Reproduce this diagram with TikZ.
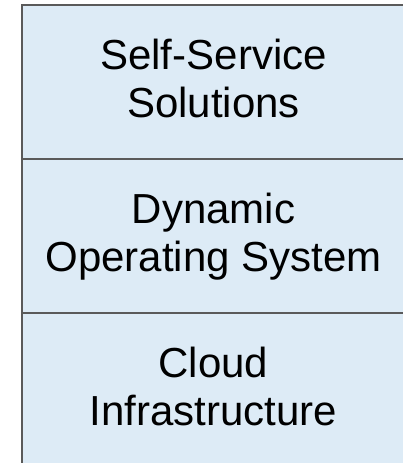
\documentclass[tikz,border=0pt]{standalone}
\usepackage{fontspec}
\setmainfont{Liberation Sans}
\usetikzlibrary{positioning}

\definecolor{layerfill}{HTML}{DDEBF6}
\definecolor{layerline}{HTML}{5A5A5A}

\begin{document}
\begin{tikzpicture}[x=1pt, y=-1pt,
    layer/.style={draw=layerline, line width=2pt, fill=layerfill,
        minimum width=383pt, minimum height=154pt, inner sep=0pt, outer sep=0pt,
        align=center, font=\fontsize{42}{48}\selectfont,
        text height=79pt, text depth=9pt}]

    % Fix the size of the picture
    \useasboundingbox (0,0) rectangle (402,463);

    % Top layer
    \node[layer] (service) at (213.5, 82) {Self-Service\\Solutions};

    % Middle and bottom layers stacked below it
    \node[layer, below=0pt of service] (system) {Dynamic\\Operating System};
    \node[layer, below=0pt of system] (cloud) {Cloud\\Infrastructure};

\end{tikzpicture}
\end{document}
